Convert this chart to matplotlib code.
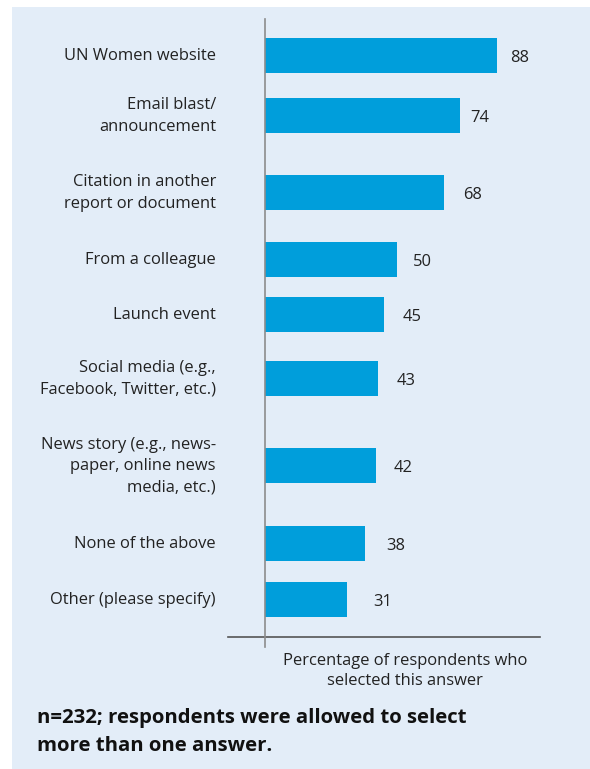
import matplotlib.pyplot as plt
from matplotlib.patches import Rectangle

# survey answers and share of respondents (%)
categories = [
    'UN Women website',
    'Email blast/\nannouncement',
    'Citation in another\nreport or document',
    'From a colleague',
    'Launch event',
    'Social media (e.g.,\nFacebook, Twitter, etc.)',
    'News story (e.g., news-\npaper, online news\nmedia, etc.)',
    'None of the above',
    'Other (please specify)',
]
values = [88, 74, 68, 50, 45, 43, 42, 38, 31]

# vertical placement of each bar (pixels from top of figure)
bar_rows = [56, 116, 193, 260, 315, 379, 466, 544, 600]
# gap between bar end and its value label (pixels)
label_gap = [13, 10, 19, 16, 19, 18, 18, 21, 27]

W, H = 590, 769
panel_bg = '#e3edf8'
bar_color = '#009edb'
text_color = '#222222'
font = 'Open Sans'
fs = 11.9

fig = plt.figure(figsize=(W / 100, H / 100), dpi=100)
fig.patch.set_facecolor('white')
fig.patches.append(Rectangle((12 / W, 0), 1 - 12 / W, 1 - 7 / H,
                             transform=fig.transFigure, facecolor=panel_bg,
                             edgecolor='none', zorder=-5))

# axes area spans x 228..540 px and y 19..637 px
ax_left, ax_right = 228, 540
ax_top, ax_bottom = 19, 637
ax = fig.add_axes([ax_left / W, 1 - ax_bottom / H,
                   (ax_right - ax_left) / W, (ax_bottom - ax_top) / H])
ax.set_facecolor('none')
ax.set_zorder(2)

px_per_unit = (497 - 265) / 88.0
ax.set_xlim((ax_left - 265) / px_per_unit, (ax_right - 265) / px_per_unit)
ax.set_ylim(ax_bottom, ax_top)

ax.barh(bar_rows, values, height=35, left=0, color=bar_color, zorder=2)

for y, v, g in zip(bar_rows, values, label_gap):
    ax.text(v + g / px_per_unit, y + 2, str(v), ha='left', va='center',
            fontsize=fs, color=text_color, family=font)

for y, lab in zip(bar_rows, categories):
    ax.text(216, H - y, lab, transform=None, ha='right', va='center',
            fontsize=fs, color=text_color, family=font, linespacing=1.45)

for s in ax.spines.values():
    s.set_visible(False)
ax.set_xticks([])
ax.set_yticks([])

# baseline and zero line
ax.axhline(ax_bottom, color='#555555', lw=1.2, zorder=3, clip_on=False)
ax.plot([0, 0], [ax_top, 647], color='#8c8c8c', lw=1.2, zorder=3, clip_on=False)

fig.text(405 / W, 1 - 671 / H, 'Percentage of respondents who\nselected this answer',
         ha='center', va='center', fontsize=fs, color=text_color, family=font,
         linespacing=1.3)

fig.text(37 / W, 1 - 732 / H,
         'n=232; respondents were allowed to select\nmore than one answer.',
         ha='left', va='center', fontsize=14.7, fontweight='bold', color='#111111',
         family=font, linespacing=1.55)

fig.savefig('out.png', dpi=100, facecolor=fig.get_facecolor())
